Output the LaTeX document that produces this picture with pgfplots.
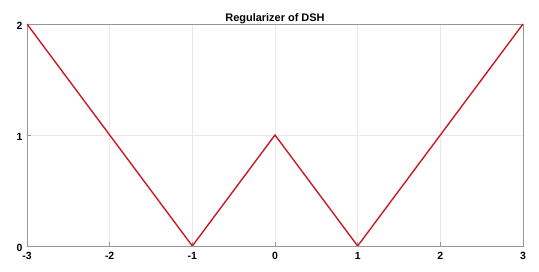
\documentclass[border=0pt]{standalone}
\usepackage{pgfplots}
\pgfplotsset{compat=1.18}
\usepackage{fontspec}
\setmainfont{Liberation Sans}
\definecolor{axgray}{RGB}{150,150,150}
\definecolor{gridgray}{RGB}{232,232,232}
\definecolor{linered}{RGB}{205,25,35}
\begin{document}
\begin{tikzpicture}
\useasboundingbox (-27bp,-26bp) rectangle (512bp,246bp);
\begin{axis}[
  at={(0,0)}, anchor=south west,
  scale only axis, width=496bp, height=222bp,
  xmin=-3, xmax=3, ymin=0, ymax=2,
  xtick={-3,-2,-1,0,1,2,3}, ytick={0,1,2},
  xmajorgrids, ymajorgrids,
  grid style={gridgray, line width=0.6pt},
  axis line style={axgray, line width=0.7pt},
  tick style={axgray, line width=0.6pt},
  major tick length=4bp,
  tick align=inside,
  xtick pos=lower, ytick pos=left,
  /pgf/number format/assume math mode=true,
  ticklabel style={font=\fontsize{10.5}{12}\selectfont\bfseries, text=black},
  xticklabel style={yshift=-2.5bp},
  yticklabel style={xshift=-1bp, yshift=-1.5bp},
  title={Regularizer of DSH},
  title style={font=\fontsize{11}{13}\selectfont\bfseries, yshift=-9bp},
]
\addplot[linered, line width=1.4pt] coordinates {(-3,2) (-1,0) (0,1) (1,0) (3,2)};
\end{axis}
\end{tikzpicture}
\end{document}
